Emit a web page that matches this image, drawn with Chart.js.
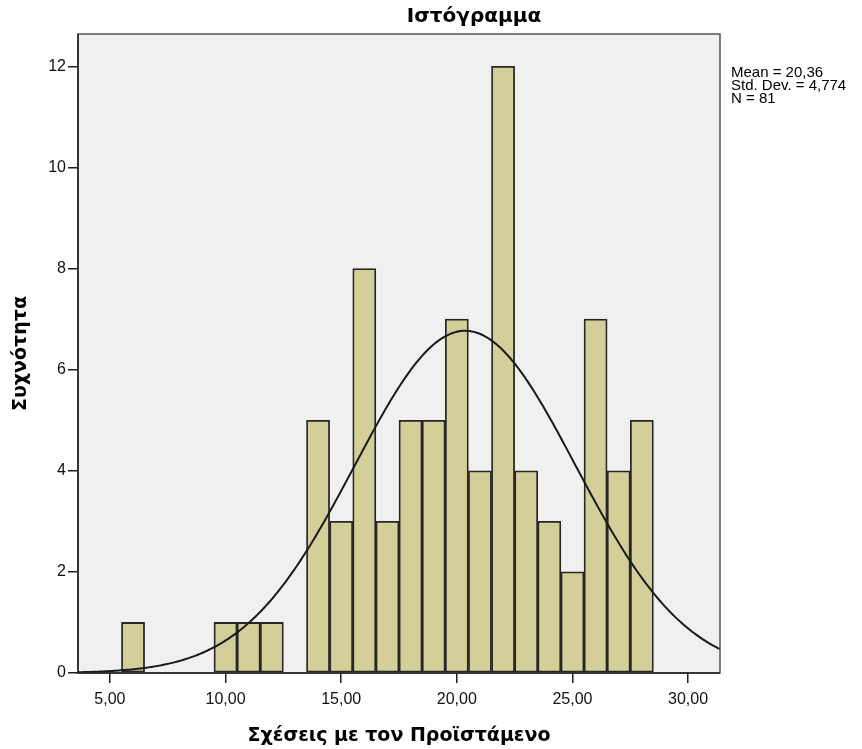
<!DOCTYPE html>
<html>
<head>
<meta charset="utf-8">
<title>Ιστόγραμμα</title>
<script src="https://cdn.jsdelivr.net/npm/chart.js@4.4.0/dist/chart.umd.min.js"></script>
<style>
    html, body { margin: 0; padding: 0; background: #ffffff; }
    #wrap { width: 862px; height: 749px; }
</style>
</head>
<body>
<div id="wrap"><canvas id="histChart" width="862" height="749"></canvas></div>
<script>
// histogram bins (width 1, centred on whole numbers) and their counts
const binCenters = [6, 10, 11, 12, 14, 15, 16, 17, 18, 19, 20, 21, 22, 23, 24, 25, 26, 27, 28];
const frequencies = [1, 1, 1, 1, 5, 3, 8, 3, 5, 5, 7, 4, 12, 4, 3, 2, 7, 4, 5];

const xTicks = [5, 10, 15, 20, 25, 30];
const yTicks = [0, 2, 4, 6, 8, 10, 12];

// summary statistics shown next to the plot
const MEAN = 20.36;
const STD_DEV = 4.774;
const N = 81;
const BIN_WIDTH = 1;

const X_MIN = 3.62;
const X_MAX = 31.38;

const labelFont = 'Liberation Sans, Arial, sans-serif';
const titleFont = 'DejaVu Sans, Verdana, sans-serif';

const fmt = v => v.toFixed(2).replace('.', ',');

// fitted normal curve, scaled to counts
function normalCurve() {
    const pts = [];
    for (let i = 0; i <= 300; i++) {
        const x = X_MIN + (X_MAX - X_MIN) * i / 300;
        const z = (x - MEAN) / STD_DEV;
        const y = N * BIN_WIDTH * Math.exp(-0.5 * z * z) / (STD_DEV * Math.sqrt(2 * Math.PI));
        pts.push({ x: x, y: y });
    }
    return pts;
}

const plotDecor = {
    id: 'plotDecor',
    beforeDatasetsDraw(chart) {
        const { ctx, chartArea: a } = chart;
        ctx.save();
        ctx.fillStyle = '#f0f0f0';
        ctx.fillRect(a.left, a.top, a.right - a.left, a.bottom - a.top);
        ctx.restore();
    },
    afterDraw(chart) {
        const { ctx, chartArea: a } = chart;
        ctx.save();
        // frame
        ctx.strokeStyle = '#555555';
        ctx.lineWidth = 1.5;
        ctx.strokeRect(a.left, a.top, a.right - a.left, a.bottom - a.top);
        ctx.strokeStyle = '#1e1e1e';
        ctx.beginPath();
        ctx.moveTo(a.left, a.top);
        ctx.lineTo(a.left, a.bottom);
        ctx.lineTo(a.right, a.bottom);
        ctx.stroke();

        // chart title
        ctx.fillStyle = '#000000';
        ctx.font = 'bold 20px ' + titleFont;
        ctx.textAlign = 'center';
        ctx.textBaseline = 'middle';
        ctx.fillText('Ιστόγραμμα', 474, 17);

        // stats box
        ctx.font = '15px ' + labelFont;
        ctx.textAlign = 'left';
        ctx.textBaseline = 'middle';
        ctx.fillText('Mean = ' + MEAN.toFixed(2).replace('.', ','), 731, 73);
        ctx.fillText('Std. Dev. = ' + STD_DEV.toFixed(3).replace('.', ','), 731, 86);
        ctx.fillText('N = ' + N, 731, 99);
        ctx.restore();
    }
};

const ctx = document.getElementById('histChart').getContext('2d');

new Chart(ctx, {
    type: 'bar',
    data: {
        datasets: [
            {
                type: 'line',
                data: normalCurve(),
                borderColor: '#1a1a1a',
                borderWidth: 2,
                pointRadius: 0,
                tension: 0,
                fill: false,
                order: 0
            },
            {
                type: 'bar',
                data: binCenters.map((c, i) => ({ x: c, y: frequencies[i] })),
                backgroundColor: '#d4cf99',
                borderColor: '#262626',
                borderWidth: 1.8,
                borderSkipped: false,
                barPercentage: 1.0,
                categoryPercentage: 1.0,
                order: 1
            }
        ]
    },
    options: {
        responsive: false,
        animation: false,
        events: [],
        layout: { padding: { top: 34, right: 142, left: 0, bottom: 0 } },
        plugins: {
            legend: { display: false },
            tooltip: { enabled: false },
            title: { display: false }
        },
        scales: {
            x: {
                type: 'linear',
                min: X_MIN,
                max: X_MAX,
                offset: false,
                afterBuildTicks: scale => { scale.ticks = xTicks.map(v => ({ value: v })); },
                afterFit: scale => { scale.height = 76; },
                grid: {
                    offset: false,
                    drawOnChartArea: false,
                    drawTicks: true,
                    tickLength: 10,
                    color: '#1e1e1e',
                    lineWidth: 1.5
                },
                border: { display: false },
                ticks: {
                    autoSkip: false,
                    maxRotation: 0,
                    padding: 7,
                    color: '#111111',
                    font: { family: labelFont, size: 16 },
                    callback: v => fmt(v)
                },
                title: {
                    display: true,
                    text: 'Σχέσεις με τον Προϊστάμενο',
                    color: '#000000',
                    font: { family: titleFont, size: 19, weight: 'bold' },
                    padding: { top: 0, bottom: 2 }
                }
            },
            y: {
                min: 0,
                max: 12.64,
                afterBuildTicks: scale => { scale.ticks = yTicks.map(v => ({ value: v })); },
                afterFit: scale => { scale.width = 78; },
                grid: {
                    drawOnChartArea: false,
                    drawTicks: true,
                    tickLength: 10,
                    color: '#1e1e1e',
                    lineWidth: 1.5
                },
                border: { display: false },
                ticks: {
                    padding: 2,
                    color: '#111111',
                    font: { family: labelFont, size: 16 }
                },
                title: {
                    display: true,
                    text: 'Συχνότητα',
                    color: '#000000',
                    font: { family: titleFont, size: 19, weight: 'bold' },
                    padding: { top: 10, bottom: 0 }
                }
            }
        }
    },
    plugins: [plotDecor]
});
</script>
</body>
</html>
